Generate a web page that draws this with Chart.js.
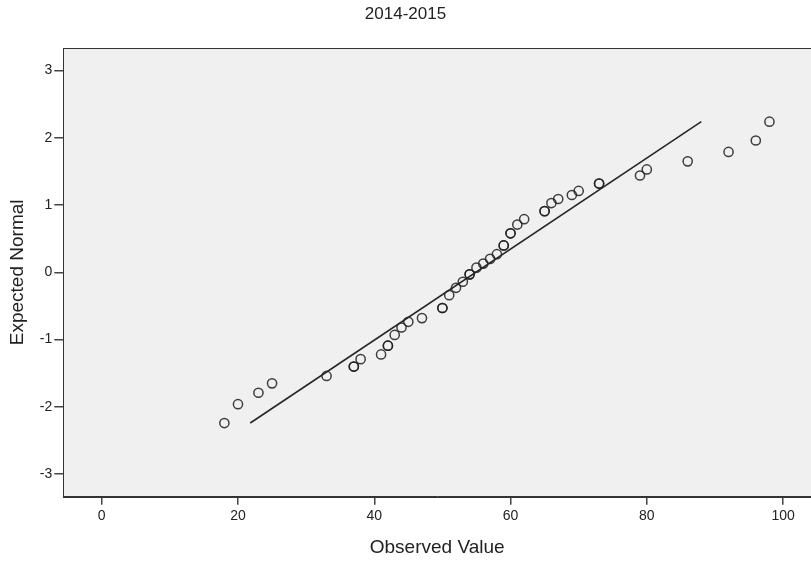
<!DOCTYPE html>
<html>
<head>
<meta charset="utf-8">
<script src="https://cdn.jsdelivr.net/npm/chart.js@4/dist/chart.umd.min.js"></script>
<style>
  body { margin: 0; background: #fff; }
  canvas { display: block; }
</style>
</head>
<body>
<canvas id="qqChart" width="811" height="563"></canvas>
<script>
// observed values and their expected normal scores (ties appear twice)
const observed = [18, 20, 23, 25, 33, 37, 37, 38, 41, 42, 42, 43, 44, 45, 47, 50, 50, 51, 52, 53,
    54, 54, 55, 56, 57, 58, 59, 59, 60, 60, 61, 62, 65, 65, 66, 67, 69, 70, 73, 73,
    79, 80, 86, 92, 96, 98];
const expected = [-2.24, -1.96, -1.79, -1.65, -1.54, -1.40, -1.40, -1.29, -1.22, -1.09, -1.09, -0.93, -0.82, -0.735, -0.68, -0.53, -0.53, -0.34, -0.23, -0.14,
    -0.03, -0.03, 0.07, 0.13, 0.20, 0.27, 0.40, 0.40, 0.58, 0.58, 0.71, 0.79, 0.91, 0.91, 1.03, 1.09, 1.15, 1.21, 1.32, 1.32,
    1.44, 1.53, 1.65, 1.79, 1.96, 2.24];

// reference line ends
const lineX = [21.8, 88];
const lineY = [-2.24, 2.24];

const xTicks = [0, 20, 40, 60, 80, 100];
const yTicks = [-3, -2, -1, 0, 1, 2, 3];

const font = "'Liberation Sans', Arial, sans-serif";

// grey plot background + frame
const plotFrame = {
    id: "plotFrame",
    beforeDraw(chart) {
        const { ctx, chartArea: a } = chart;
        ctx.save();
        ctx.fillStyle = "#f0f0f0";
        ctx.fillRect(a.left, a.top, chart.width - a.left, a.bottom - a.top);
        ctx.restore();
    },
    afterDraw(chart) {
        const { ctx, chartArea: a } = chart;
        ctx.save();
        ctx.strokeStyle = "#333";
        ctx.lineWidth = 1;
        ctx.strokeRect(Math.round(a.left) + 0.5, Math.round(a.top) + 0.5, chart.width - a.left + 5, Math.round(a.bottom - a.top));
        ctx.restore();
    }
};

const points = observed.map((v, i) => ({ x: v, y: expected[i] }));
const linePts = lineX.map((v, i) => ({ x: v, y: lineY[i] }));

new Chart(document.getElementById("qqChart"), {
    type: "scatter",
    data: {
        datasets: [
            {
                data: linePts,
                type: "line",
                showLine: true,
                borderColor: "#262626",
                borderWidth: 1.6,
                pointRadius: 0,
                fill: false,
            },
            {
                data: points,
                pointRadius: 4.6,
                pointBorderWidth: 1.5,
                pointBorderColor: "rgba(30,30,30,0.85)",
                pointBackgroundColor: "rgba(0,0,0,0)",
            },
        ],
    },
    options: {
        responsive: false,
        animation: false,
        devicePixelRatio: 1,
        layout: { padding: 0, autoPadding: false },
        plugins: {
            legend: { display: false },
            tooltip: { enabled: false },
            title: {
                display: true,
                text: "2014-2015",
                color: "#222",
                font: { family: font, size: 17, weight: "normal" },
                padding: { top: 4, bottom: 23.6 },
            },
        },
        scales: {
            x: {
                type: "linear",
                min: -5.64,
                max: 104.1,
                afterBuildTicks: s => { s.ticks = xTicks.map(v => ({ value: v })); },
                afterFit: s => { s.height = 66.3; },
                ticks: { color: "#222", font: { family: font, size: 14 }, padding: 3, maxRotation: 0 },
                grid: { drawOnChartArea: false, tickLength: 8, color: "#444", lineWidth: 1.5 },
                border: { display: true, color: "#333", width: 1 },
                title: {
                    display: true,
                    text: "Observed Value",
                    color: "#222",
                    font: { family: font, size: 19 },
                    padding: { top: 0, bottom: 4 },
                },
            },
            y: {
                type: "linear",
                min: -3.335,
                max: 3.335,
                afterBuildTicks: s => { s.ticks = yTicks.map(v => ({ value: v })); },
                afterFit: s => { s.width = 63.3; },
                ticks: { color: "#222", font: { family: font, size: 14 }, padding: 2 },
                grid: { drawOnChartArea: false, tickLength: 9, color: "#444", lineWidth: 1.5 },
                border: { display: true, color: "#333", width: 1 },
                title: {
                    display: true,
                    text: "Expected Normal",
                    color: "#222",
                    font: { family: font, size: 19 },
                    padding: { top: 6.6, bottom: 0 },
                },
            },
        },
    },
    plugins: [plotFrame],
});
</script>
</body>
</html>
